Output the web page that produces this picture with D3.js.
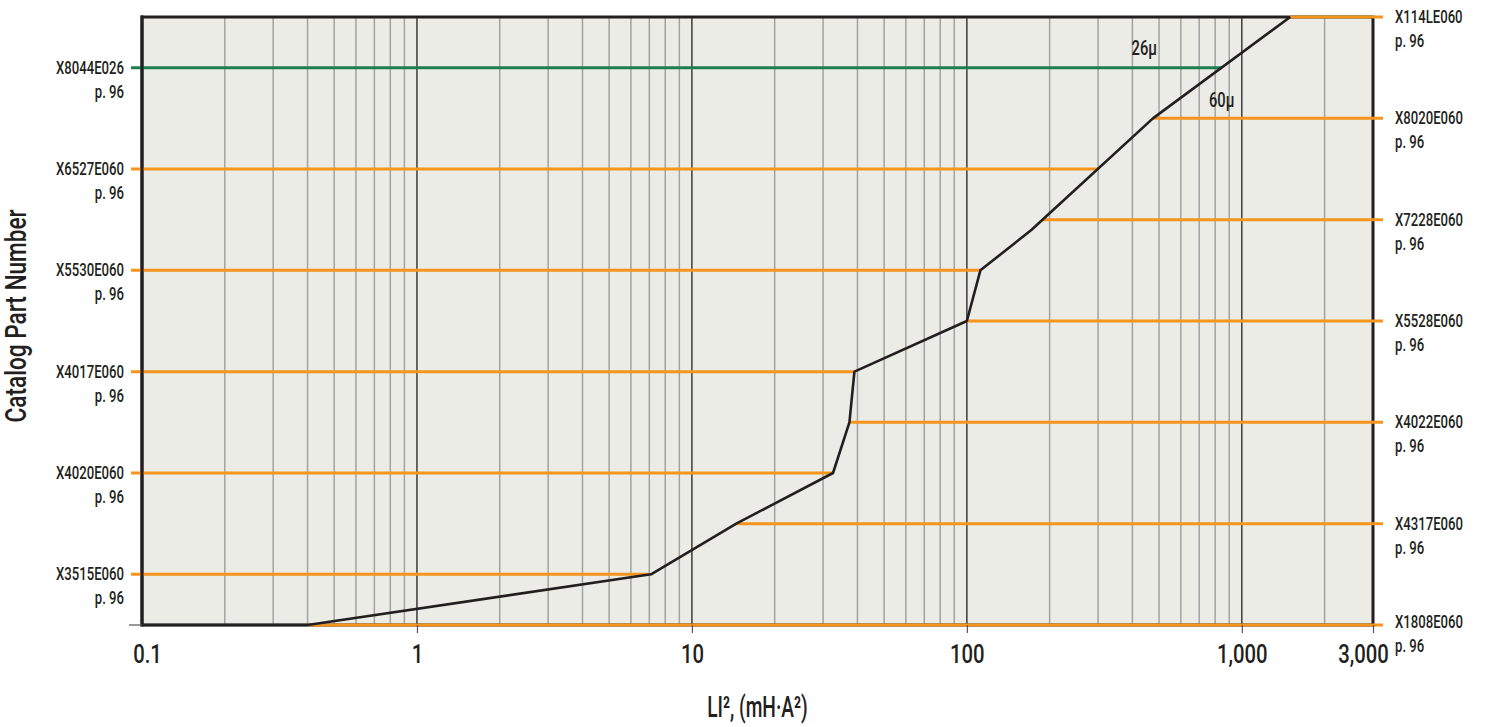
<!DOCTYPE html>
<html>
<head>
<meta charset="utf-8">
<script src="https://cdn.jsdelivr.net/npm/d3@7"></script>
<style>
  html, body { margin: 0; padding: 0; background: #ffffff; }
  svg { display: block; }
  text { font-family: Roboto, 'Liberation Sans', sans-serif; font-weight: 500; fill: #231f20; }
</style>
</head>
<body>
<svg id="chart" width="1489" height="727"></svg>
<script>
// Catalog part numbers, one per row from top to bottom
const partNumbers = [
  "X114LE060", "X8044E026", "X8020E060", "X6527E060", "X7228E060",
  "X5530E060", "X5528E060", "X4017E060", "X4022E060", "X4020E060",
  "X4317E060", "X3515E060", "X1808E060"
];
// Which side of the chart each part's label sits on
const labelSide = ["right", "left", "right", "left", "right", "left", "right",
                   "left", "right", "left", "right", "left", "right"];
// Core gap per part (26μ for the green line, 60μ for the rest)
const gapMicrons = [60, 26, 60, 60, 60, 60, 60, 60, 60, 60, 60, 60, 60];
const pageRef = "p. 96";

// Selection boundary curve: LI² (mH·A²) vs row position
const curveLI2 = [0.1, 0.4, 7.1, 14.5, 32.6, 37.4, 39, 100, 112, 172, 475, 1500];
const curveRow = [12, 12, 11, 10, 9, 8, 7, 6, 5, 4.2, 2, 0];

// Gap annotations: text, LI² position, row position
const gapLabels = ["26μ", "60μ"];
const gapLabelLI2 = [442, 845];
const gapLabelRow = [0.75, 1.77];

// X axis ticks
const xTickValues = [0.1, 1, 10, 100, 1000, 3000];
const xTickLabels = ["0.1", "1", "10", "100", "1,000", "3,000"];
const xTitle = "LI², (mH·A²)";
const yTitle = "Catalog Part Number";

const svg = d3.select("#chart");
const plot = { left: 142, right: 1373, top: 17, bottom: 625 };

const x = d3.scaleLog().domain([0.1, 3000]).range([plot.left, plot.right]);
const y = d3.scaleLinear().domain([0, partNumbers.length - 1]).range([plot.top, plot.bottom]);

const ORANGE = "#f7941d";
const GREEN = "#1b7f4f";
const INK = "#231f20";

// Narrow the type horizontally around each text's anchor point
function condense(sel, k) {
  sel.attr("transform", function () {
    const prev = this.getAttribute("data-pos") || "";
    return `${prev} scale(${k},1)`;
  });
}

// Plot background
svg.append("rect")
  .attr("x", plot.left).attr("y", plot.top)
  .attr("width", plot.right - plot.left).attr("height", plot.bottom - plot.top)
  .attr("fill", "#eaece5");

// Log grid: minor lines at 2..9 of each decade, major lines at each decade
const minor = [], major = [];
for (let e = -1; e <= 3; e++) {
  const base = Math.pow(10, e);
  for (let m = 1; m <= 9; m++) {
    const v = +(m * base).toPrecision(6);
    if (v <= 0.1 || v > 3000) continue;
    (m === 1 ? major : minor).push(v);
  }
}
svg.append("g").selectAll("line").data(minor).join("line")
  .attr("x1", d => x(d)).attr("x2", d => x(d))
  .attr("y1", plot.top).attr("y2", plot.bottom)
  .attr("stroke", "#a2a3a2").attr("stroke-width", 1.5);
svg.append("g").selectAll("line").data(major).join("line")
  .attr("x1", d => x(d)).attr("x2", d => x(d))
  .attr("y1", plot.top).attr("y2", plot.bottom)
  .attr("stroke", "#3d3b3b").attr("stroke-width", 1.5);

// Frame
svg.append("rect")
  .attr("x", plot.left).attr("y", plot.top)
  .attr("width", plot.right - plot.left).attr("height", plot.bottom - plot.top)
  .attr("fill", "none").attr("stroke", INK).attr("stroke-width", 3);

// Where the boundary curve crosses a given row (interpolated in screen space)
function crossing(row) {
  for (let i = 0; i < curveRow.length - 1; i++) {
    const r0 = curveRow[i], r1 = curveRow[i + 1];
    if (r0 === r1) continue;
    if (row <= r0 && row >= r1) {
      const t = (r0 - row) / (r0 - r1);
      const l0 = Math.log10(curveLI2[i]), l1 = Math.log10(curveLI2[i + 1]);
      return Math.pow(10, l0 + t * (l1 - l0));
    }
  }
  return curveLI2[0];
}

// Part lines: left-labelled rows run from the axis to the curve,
// right-labelled rows run from the curve out past the frame
const rows = partNumbers.map((p, i) => ({
  part: p, row: i, side: labelSide[i], gap: gapMicrons[i], cross: crossing(i)
}));
rows[rows.length - 1].cross = curveLI2[1];

svg.append("g").selectAll("line").data(rows).join("line")
  .attr("x1", d => d.side === "left" ? plot.left - 11 : x(d.cross))
  .attr("x2", d => d.side === "left" ? x(d.cross) : plot.right + 10)
  .attr("y1", d => y(d.row)).attr("y2", d => y(d.row))
  .attr("stroke", d => d.gap === 26 ? GREEN : ORANGE)
  .attr("stroke-width", 3);

// Left frame edge above the part lines
svg.append("line")
  .attr("x1", plot.left).attr("x2", plot.left)
  .attr("y1", plot.top - 1.5).attr("y2", plot.bottom + 1.5)
  .attr("stroke", INK).attr("stroke-width", 3);

// Bottom-left axis stub
svg.append("line")
  .attr("x1", plot.left - 13).attr("x2", plot.left)
  .attr("y1", plot.bottom).attr("y2", plot.bottom)
  .attr("stroke", "#555").attr("stroke-width", 1.2);

// Boundary curve
const curvePts = curveLI2.map((v, i) => [v, curveRow[i]]);
svg.append("path")
  .datum(curvePts)
  .attr("d", d3.line().x(d => x(d[0])).y(d => y(d[1])))
  .attr("fill", "none").attr("stroke", INK).attr("stroke-width", 2.6)
  .attr("stroke-linejoin", "round");

// X axis
const xAxis = d3.axisBottom(x)
  .tickValues(xTickValues)
  .tickFormat((d, i) => xTickLabels[i])
  .tickSize(8).tickPadding(12);
const gx = svg.append("g")
  .attr("transform", `translate(0,${plot.bottom})`)
  .call(xAxis);
gx.select(".domain").remove();
gx.selectAll(".tick line").attr("stroke", "#555").attr("stroke-width", 1.2)
  .attr("opacity", (d, i) => i === 0 ? 0 : 1);
gx.selectAll(".tick text")
  .attr("font-size", 26)
  .attr("font-family", null)
  .attr("fill", INK)
  .attr("data-pos", (d, i) => `translate(${i === 0 ? 5 : (i === xTickValues.length - 1 ? -10 : 0)},0)`)
  .call(condense, 0.78);

// Part labels
const labels = svg.append("g").selectAll("g").data(rows).join("g")
  .attr("transform", d => `translate(${d.side === "left" ? plot.left - 18 : plot.right + 22},${y(d.row)})`);
labels.append("text")
  .attr("text-anchor", d => d.side === "left" ? "end" : "start")
  .attr("y", d => d.row === partNumbers.length - 1 ? 3 : 6)
  .attr("font-size", 18)
  .text(d => d.part)
  .call(condense, 0.73);
labels.append("text")
  .attr("text-anchor", d => d.side === "left" ? "end" : "start")
  .attr("y", d => d.row === partNumbers.length - 1 ? 27 : 30)
  .attr("font-size", 18)
  .text(pageRef)
  .call(condense, 0.73);

// Gap annotations
svg.append("g").selectAll("text").data(gapLabels).join("text")
  .attr("data-pos", (d, i) => `translate(${x(gapLabelLI2[i])},${y(gapLabelRow[i])})`)
  .attr("text-anchor", "middle")
  .attr("font-size", 21)
  .text(d => d)
  .call(condense, 0.7);

// Axis titles
svg.append("text")
  .attr("data-pos", `translate(${(plot.left + plot.right) / 2},717)`)
  .attr("text-anchor", "middle")
  .attr("font-size", 29)
  .text(xTitle)
  .call(condense, 0.66);
svg.append("text")
  .attr("data-pos", "translate(26,316) rotate(-90)")
  .attr("text-anchor", "middle")
  .attr("font-size", 29)
  .text(yTitle)
  .call(condense, 0.78);
</script>
</body>
</html>
